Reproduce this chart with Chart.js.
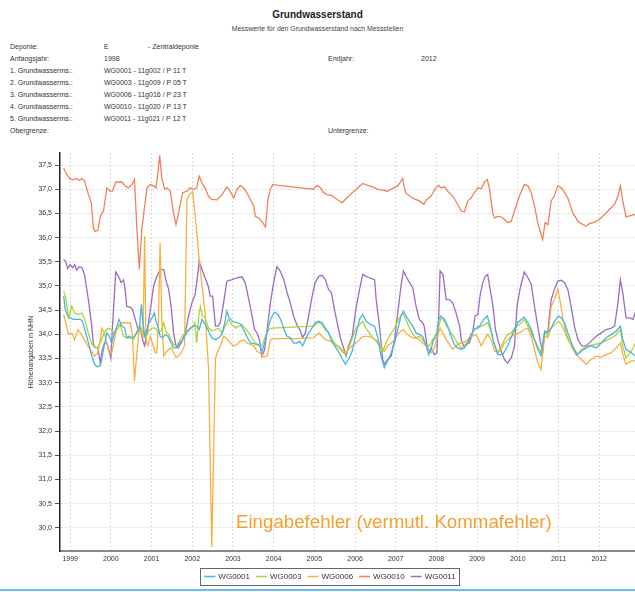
<!DOCTYPE html>
<html>
<head>
<meta charset="utf-8">
<script src="https://cdn.jsdelivr.net/npm/chart.js@4.4.0/dist/chart.umd.min.js"></script>
<style>
  body { margin: 0; background: #fff; width: 635px; height: 592px; overflow: hidden; position: relative;
         font-family: "Liberation Sans", Arial, sans-serif; color: #333; }
  #chart { position: absolute; left: 0; top: 0; }
  .t { position: absolute; font-size: 7px; line-height: 8px; white-space: nowrap; }
  .title { position: absolute; left: 0; width: 635px; text-align: center; white-space: nowrap; }
  #note { position: absolute; left: 236px; top: 511px; font-size: 18.7px; color: #f4a030; white-space: nowrap; }
  #rule { position: absolute; left: 0; top: 589px; width: 635px; height: 2px; background: #6cbde6; }
</style>
</head>
<body>
<div class="title" style="top:9px;font-size:10px;font-weight:bold;color:#222">Grundwasserstand</div>
<div class="title" style="top:25px;font-size:6.9px;color:#444">Messwerte für den Grundwasserstand nach Messstellen</div>

<div class="t" style="left:10px;top:43px">Deponie:</div>
<div class="t" style="left:104px;top:43px">E</div>
<div class="t" style="left:148px;top:43px">- Zentraldeponie</div>
<div class="t" style="left:10px;top:55px">Anfangsjahr:</div>
<div class="t" style="left:104px;top:55px">1998</div>
<div class="t" style="left:328px;top:55px">Endjahr:</div>
<div class="t" style="left:421px;top:55px">2012</div>
<div class="t" style="left:10px;top:67px">1. Grundwasserms.:</div>
<div class="t" style="left:104px;top:67px">WG0001 - 11g002 / P 11 T</div>
<div class="t" style="left:10px;top:79px">2. Grundwasserms.:</div>
<div class="t" style="left:104px;top:79px">WG0003 - 11g009 / P 05 T</div>
<div class="t" style="left:10px;top:91px">3. Grundwasserms.:</div>
<div class="t" style="left:104px;top:91px">WG0006 - 11g016 / P 23 T</div>
<div class="t" style="left:10px;top:103px">4. Grundwasserms.:</div>
<div class="t" style="left:104px;top:103px">WG0010 - 11g020 / P 13 T</div>
<div class="t" style="left:10px;top:115px">5. Grundwasserms.:</div>
<div class="t" style="left:104px;top:115px">WG0011 - 11g021 / P 12 T</div>
<div class="t" style="left:10px;top:127px">Obergrenze:</div>
<div class="t" style="left:328px;top:127px">Untergrenze:</div>

<canvas id="chart" width="635" height="592"></canvas>
<div id="note">Eingabefehler (vermutl. Kommafehler)</div>
<div id="rule"></div>

<script>
// Messstellen und Linienfarben
const wellNames = ['WG0001', 'WG0003', 'WG0006', 'WG0010', 'WG0011'];
const wellColors = ['#45b5e6', '#b2d235', '#f7b040', '#f0825a', '#9b6bc3'];

const yearTicks = [1999, 2000, 2001, 2002, 2003, 2004, 2005, 2006, 2007, 2008, 2009, 2010, 2011, 2012];
const levelTicks = [30.0, 30.5, 31.0, 31.5, 32.0, 32.5, 33.0, 33.5, 34.0, 34.5, 35.0, 35.5, 36.0, 36.5, 37.0, 37.5];

// WG0001
const wg0001Years = [1998.84,1998.88,1998.94,1999.00,1999.08,1999.16,1999.25,1999.30,1999.37,1999.45,1999.53,1999.60,1999.66,1999.71,1999.76,1999.82,1999.90,1999.96,2000.02,2000.09,2000.15,2000.20,2000.27,2000.34,2000.39,2000.45,2000.52,2000.58,2000.64,2000.70,2000.75,2000.78,2000.83,2000.89,2000.94,2001.01,2001.07,2001.11,2001.16,2001.21,2001.27,2001.34,2001.40,2001.46,2001.54,2001.62,2001.68,2001.75,2001.81,2001.87,2001.95,2002.03,2002.11,2002.17,2002.24,2002.32,2002.40,2002.48,2002.57,2002.65,2002.73,2002.80,2002.85,2002.91,2002.99,2003.10,2003.18,2003.26,2003.34,2003.43,2003.51,2003.59,2003.66,2003.71,2003.78,2003.86,2003.94,2004.02,2004.11,2004.19,2004.27,2004.33,2004.41,2004.49,2004.57,2004.64,2004.71,2004.78,2004.86,2004.94,2005.02,2005.11,2005.19,2005.27,2005.35,2005.43,2005.53,2005.61,2005.70,2005.76,2005.84,2005.93,2006.02,2006.11,2006.19,2006.27,2006.39,2006.48,2006.56,2006.64,2006.72,2006.80,2006.89,2006.97,2007.05,2007.13,2007.19,2007.25,2007.34,2007.42,2007.50,2007.58,2007.66,2007.75,2007.81,2007.87,2007.93,2007.99,2008.06,2008.11,2008.20,2008.28,2008.36,2008.44,2008.52,2008.61,2008.69,2008.77,2008.85,2008.93,2009.06,2009.16,2009.25,2009.30,2009.39,2009.51,2009.63,2009.75,2009.88,2010.00,2010.15,2010.25,2010.33,2010.41,2010.49,2010.57,2010.66,2010.72,2010.82,2010.90,2011.00,2011.07,2011.15,2011.23,2011.35,2011.46,2011.56,2011.68,2011.80,2011.93,2012.05,2012.17,2012.30,2012.42,2012.52,2012.58,2012.66,2012.79,2012.89];
const wg0001Levels = [34.79,34.51,34.38,34.34,34.31,34.31,34.31,34.27,34.07,33.82,33.55,33.38,33.33,33.34,33.41,33.69,34.03,33.96,33.82,34.03,34.17,34.31,34.17,34.13,33.93,33.96,33.93,33.96,34.03,34.13,34.62,34.31,33.96,34.10,34.24,34.34,34.44,34.27,34.17,33.96,33.93,34.00,33.96,33.86,33.72,33.72,33.82,33.86,33.96,34.03,34.13,34.17,34.17,34.10,34.31,34.20,34.07,33.93,33.89,33.93,34.00,34.24,34.48,34.34,34.27,34.24,34.22,34.10,33.96,33.82,33.81,33.79,33.76,33.65,33.82,34.13,34.34,34.46,34.41,34.27,34.07,33.96,33.93,33.82,33.82,33.86,33.76,33.89,34.03,34.13,34.24,34.27,34.24,34.13,34.03,33.86,33.72,33.62,33.48,33.38,33.48,33.65,34.00,34.31,34.41,34.27,34.20,34.17,33.93,33.55,33.31,33.45,33.62,33.82,34.10,34.38,34.48,34.38,34.27,34.17,34.03,34.00,33.96,33.76,33.58,33.69,33.89,33.93,34.31,34.38,34.31,34.17,33.96,33.79,33.72,33.69,33.72,33.82,34.00,34.10,34.17,34.31,34.38,34.24,33.89,33.58,33.58,33.76,34.03,34.24,34.36,34.24,34.10,33.89,33.69,33.56,34.07,34.03,34.13,34.27,34.38,34.34,34.24,34.03,33.76,33.58,33.65,33.72,33.76,33.72,33.82,33.93,34.00,34.07,34.17,33.89,33.69,33.62,33.55];

// WG0003
const wg0003Years = [1998.84,1998.89,1998.96,1999.04,1999.11,1999.19,1999.29,1999.35,1999.43,1999.52,1999.57,1999.66,1999.74,1999.80,1999.86,1999.94,2000.01,2000.07,2000.15,2000.23,2000.31,2000.39,2000.48,2000.56,2000.64,2000.72,2000.80,2000.86,2000.93,2001.01,2001.09,2001.17,2001.24,2001.30,2001.35,2001.42,2001.48,2001.54,2001.60,2001.66,2001.75,2001.83,2001.91,2001.99,2002.06,2002.11,2002.16,2002.20,2002.25,2002.32,2002.40,2002.48,2002.57,2002.65,2002.73,2002.81,2002.89,2002.98,2003.06,2003.14,2003.22,2003.30,2003.39,2003.47,2003.55,2003.63,2003.71,2003.80,2003.88,2003.96,2004.45,2004.98,2005.11,2005.19,2005.27,2005.35,2005.43,2005.52,2005.60,2005.68,2005.76,2005.83,2005.89,2005.96,2006.02,2006.11,2006.19,2006.27,2006.35,2006.43,2006.52,2006.60,2006.68,2006.76,2006.84,2006.93,2007.01,2007.09,2007.17,2007.25,2007.34,2007.42,2007.50,2007.58,2007.66,2007.75,2007.83,2007.91,2008.03,2008.11,2008.20,2008.28,2008.36,2008.44,2008.52,2008.61,2008.69,2008.77,2008.85,2008.93,2009.02,2009.10,2009.18,2009.26,2009.34,2009.43,2009.51,2009.59,2009.67,2009.75,2009.84,2009.92,2010.04,2010.16,2010.25,2010.33,2010.41,2010.49,2010.57,2010.66,2010.74,2010.82,2010.90,2011.00,2011.07,2011.15,2011.23,2011.35,2011.46,2011.57,2011.72,2011.89,2012.05,2012.21,2012.38,2012.52,2012.58,2012.66,2012.79,2012.89];
const wg0003Levels = [34.89,34.76,34.34,34.58,34.44,34.41,34.44,34.34,34.07,33.82,33.76,33.72,33.82,33.96,34.07,34.13,34.10,34.03,34.10,34.20,33.96,33.93,33.93,33.89,34.07,34.17,34.03,33.93,34.07,34.13,34.13,34.03,34.07,34.24,34.07,34.00,33.89,33.79,33.76,33.82,33.96,34.03,34.10,34.13,34.24,33.82,34.38,34.58,34.38,34.34,34.13,34.07,34.10,34.13,34.03,34.17,34.31,34.20,34.13,34.17,34.20,34.13,34.03,33.93,33.82,33.79,33.76,33.96,34.10,34.13,34.15,34.17,34.25,34.20,34.10,34.03,33.91,33.79,33.72,33.65,33.58,33.69,33.82,33.98,34.13,34.20,34.27,34.13,34.03,33.93,33.86,33.76,33.65,33.82,33.96,34.07,34.20,34.34,34.44,34.31,34.13,34.00,33.93,33.96,33.89,33.79,33.76,33.89,34.07,34.34,34.27,34.13,34.03,33.93,33.82,33.72,33.76,33.86,33.96,34.10,34.13,34.17,34.20,34.24,34.07,33.77,33.62,33.76,33.89,34.00,34.03,34.13,34.20,34.31,34.17,34.03,33.89,33.76,33.62,34.03,33.96,34.13,34.20,34.27,34.20,34.07,33.89,33.72,33.58,33.69,33.76,33.79,33.82,33.89,33.96,34.10,33.76,33.51,33.65,33.82];

// WG0006 (mit dem Fehlwert 2002)
const wg0006Years = [1998.84,1998.89,1998.96,1999.04,1999.11,1999.19,1999.27,1999.35,1999.43,1999.52,1999.60,1999.68,1999.74,1999.78,1999.84,1999.90,1999.96,2000.02,2000.09,2000.15,2000.20,2000.27,2000.48,2000.53,2000.58,2000.64,2000.70,2000.75,2000.79,2000.83,2000.86,2000.91,2000.97,2001.02,2001.09,2001.13,2001.17,2001.21,2001.25,2001.30,2001.35,2001.42,2001.48,2001.54,2001.60,2001.66,2001.73,2001.81,2001.87,2001.93,2002.01,2002.09,2002.17,2002.32,2002.40,2002.48,2002.57,2002.61,2002.69,2002.77,2002.85,2002.93,2003.02,2003.10,2003.18,2003.26,2003.34,2003.43,2003.51,2003.59,2003.67,2003.75,2003.84,2003.92,2004.00,2004.61,2004.98,2005.11,2005.19,2005.27,2005.39,2005.52,2005.60,2005.68,2005.76,2005.84,2005.93,2006.02,2006.11,2006.19,2006.31,2006.43,2006.56,2006.64,2006.72,2006.80,2006.89,2006.97,2007.05,2007.13,2007.19,2007.25,2007.34,2007.42,2007.50,2007.58,2007.66,2007.75,2007.81,2007.87,2007.95,2008.03,2008.09,2008.16,2008.24,2008.32,2008.40,2008.48,2008.57,2008.65,2008.73,2008.81,2008.89,2008.96,2009.02,2009.10,2009.18,2009.26,2009.34,2009.43,2009.51,2009.59,2009.67,2009.80,2009.92,2010.04,2010.16,2010.25,2010.33,2010.41,2010.49,2010.57,2010.66,2010.74,2010.82,2010.90,2010.98,2011.05,2011.11,2011.19,2011.31,2011.43,2011.56,2011.68,2011.80,2011.93,2012.05,2012.17,2012.30,2012.42,2012.52,2012.58,2012.66,2012.79,2012.89];
const wg0006Levels = [34.41,34.24,34.00,34.03,33.89,34.10,34.00,33.89,33.76,33.65,33.55,33.62,33.89,34.13,34.03,33.82,33.62,33.62,33.89,34.17,34.20,34.24,34.24,33.96,33.03,33.62,34.13,34.03,33.96,36.03,33.89,33.76,33.96,33.82,33.62,33.62,34.31,35.89,34.31,33.55,33.62,33.69,33.72,33.62,33.53,33.55,33.62,33.76,36.79,36.89,36.95,36.30,35.55,34.40,33.30,29.60,33.50,33.62,33.76,33.96,33.91,33.82,33.76,33.79,33.86,33.89,33.82,33.79,33.76,33.65,33.62,33.53,33.55,33.89,33.91,33.91,33.93,34.03,33.96,33.89,33.86,33.79,33.76,33.69,33.62,33.69,33.76,33.82,33.89,33.96,33.96,33.93,33.86,33.76,33.65,33.76,33.82,33.89,34.00,34.07,34.10,34.03,33.96,33.93,33.93,33.89,33.82,33.76,33.65,33.62,33.72,33.96,34.13,34.03,33.89,33.79,33.69,33.76,33.82,33.82,33.86,33.93,33.96,34.00,33.93,33.76,33.89,34.00,33.89,33.66,33.62,33.69,33.82,33.93,34.00,34.03,34.10,34.13,33.96,33.69,33.41,33.27,33.96,33.93,34.58,34.72,34.93,34.65,34.31,34.03,33.76,33.58,33.48,33.38,33.48,33.55,33.53,33.58,33.62,33.72,33.82,33.58,33.38,33.45,33.45];

// WG0010
const wg0010Years = [1998.84,1998.92,1999.00,1999.08,1999.16,1999.22,1999.29,1999.35,1999.45,1999.52,1999.57,1999.61,1999.68,1999.74,1999.82,1999.90,1999.98,2000.04,2000.12,2000.27,2000.35,2000.43,2000.52,2000.58,2000.64,2000.70,2000.76,2000.83,2000.89,2000.97,2001.05,2001.11,2001.16,2001.20,2001.25,2001.32,2001.38,2001.46,2001.54,2001.60,2001.66,2001.76,2001.87,2001.95,2002.03,2002.11,2002.17,2002.24,2002.32,2002.40,2002.48,2002.61,2002.73,2002.85,2002.93,2003.02,2003.10,2003.18,2003.26,2003.34,2003.43,2003.51,2003.55,2003.63,2003.73,2003.80,2003.86,2003.92,2003.98,2004.12,2004.45,2004.78,2004.98,2005.07,2005.15,2005.23,2005.31,2005.43,2005.56,2005.68,2005.80,2005.93,2006.01,2006.07,2006.19,2006.31,2006.43,2006.56,2006.68,2006.80,2006.93,2007.05,2007.17,2007.24,2007.34,2007.46,2007.58,2007.69,2007.76,2007.87,2007.98,2008.06,2008.11,2008.20,2008.28,2008.40,2008.52,2008.61,2008.69,2008.77,2008.85,2008.93,2009.02,2009.10,2009.18,2009.25,2009.30,2009.39,2009.43,2009.51,2009.59,2009.67,2009.75,2009.84,2009.92,2010.04,2010.16,2010.25,2010.33,2010.41,2010.49,2010.56,2010.61,2010.67,2010.74,2010.82,2010.90,2010.98,2011.07,2011.15,2011.23,2011.35,2011.48,2011.60,2011.68,2011.76,2011.89,2012.01,2012.13,2012.25,2012.38,2012.46,2012.52,2012.58,2012.66,2012.79,2012.89];
const wg0010Levels = [37.44,37.30,37.21,37.20,37.22,37.18,37.22,37.18,36.89,36.72,36.20,36.13,36.15,36.44,36.55,37.03,36.96,36.96,37.15,37.15,37.07,37.03,37.10,37.20,36.17,35.34,36.17,36.65,37.03,37.10,37.07,37.03,37.38,37.70,37.24,37.00,37.03,36.96,36.51,36.27,36.48,36.93,36.96,37.03,37.00,37.03,37.27,37.13,37.02,36.85,36.79,36.78,36.89,37.05,36.96,36.82,37.00,37.08,37.03,36.93,36.79,36.65,36.44,36.41,36.31,36.22,36.79,37.00,37.10,37.08,37.05,37.02,37.00,37.08,37.03,36.93,36.89,36.87,36.79,36.72,36.82,36.93,36.98,37.03,37.12,37.08,37.05,37.00,36.98,36.96,37.02,37.07,37.22,36.93,36.86,36.80,36.76,36.69,36.79,36.86,37.03,37.08,37.03,37.05,36.96,36.86,36.69,36.55,36.53,36.76,36.82,36.93,37.03,37.01,37.15,37.20,37.03,36.48,36.41,36.44,36.43,36.38,36.31,36.34,36.55,36.86,37.10,37.07,36.93,36.65,36.31,36.10,35.96,36.31,36.27,36.76,36.86,37.07,37.03,36.93,36.82,36.51,36.34,36.27,36.24,36.29,36.32,36.38,36.48,36.58,36.69,36.86,37.07,36.76,36.43,36.46,36.48];

// WG0011
const wg0011Years = [1998.84,1998.89,1998.94,1999.00,1999.06,1999.11,1999.16,1999.22,1999.29,1999.35,1999.41,1999.47,1999.53,1999.57,1999.61,1999.68,1999.74,1999.78,1999.84,1999.90,1999.96,2000.00,2000.04,2000.09,2000.12,2000.19,2000.25,2000.31,2000.35,2000.39,2000.48,2000.53,2000.60,2000.66,2000.72,2000.78,2000.83,2000.89,2000.97,2001.05,2001.13,2001.21,2001.30,2001.35,2001.42,2001.48,2001.54,2001.60,2001.65,2001.73,2001.83,2001.91,2001.99,2002.07,2002.14,2002.17,2002.24,2002.32,2002.39,2002.44,2002.50,2002.57,2002.63,2002.69,2002.77,2002.85,2002.98,2003.10,2003.22,2003.30,2003.39,2003.47,2003.53,2003.59,2003.65,2003.71,2003.78,2003.84,2003.92,2004.00,2004.08,2004.16,2004.25,2004.33,2004.41,2004.49,2004.57,2004.66,2004.71,2004.78,2004.86,2004.94,2005.02,2005.11,2005.19,2005.27,2005.35,2005.42,2005.48,2005.56,2005.64,2005.72,2005.78,2005.84,2005.93,2006.02,2006.11,2006.19,2006.27,2006.35,2006.48,2006.52,2006.60,2006.68,2006.72,2006.80,2006.89,2006.97,2007.05,2007.13,2007.19,2007.25,2007.34,2007.42,2007.50,2007.58,2007.66,2007.70,2007.76,2007.81,2007.87,2007.95,2008.01,2008.06,2008.09,2008.16,2008.24,2008.32,2008.40,2008.48,2008.57,2008.61,2008.67,2008.73,2008.81,2008.89,2008.95,2009.02,2009.07,2009.14,2009.20,2009.26,2009.32,2009.39,2009.45,2009.51,2009.59,2009.67,2009.75,2009.84,2009.92,2009.98,2010.07,2010.16,2010.25,2010.33,2010.41,2010.49,2010.56,2010.61,2010.66,2010.74,2010.82,2010.90,2010.98,2011.07,2011.15,2011.23,2011.31,2011.39,2011.48,2011.57,2011.68,2011.80,2011.93,2012.05,2012.17,2012.30,2012.38,2012.46,2012.52,2012.58,2012.66,2012.75,2012.83,2012.89];
const wg0011Levels = [35.55,35.51,35.36,35.44,35.38,35.44,35.33,35.40,35.38,35.24,34.93,34.58,34.17,33.79,33.73,33.72,33.41,33.65,33.82,33.82,33.65,33.51,34.17,34.86,35.29,35.20,35.07,35.13,34.93,34.58,34.56,34.51,34.31,34.13,34.13,33.89,33.76,34.03,34.51,35.00,35.20,35.34,35.34,35.13,34.93,34.58,34.03,33.76,33.72,33.82,34.03,34.38,34.65,34.82,35.27,35.51,35.34,35.16,35.00,34.79,34.79,34.17,34.17,34.24,34.65,35.10,35.13,35.17,35.19,35.07,34.72,34.38,34.10,34.03,33.89,33.55,33.69,34.10,34.65,35.07,35.40,35.31,35.13,34.86,34.65,34.38,34.20,34.07,33.93,34.03,34.38,34.76,35.07,35.20,35.22,35.13,34.93,34.86,34.58,34.24,33.93,33.72,33.55,33.76,33.96,34.51,34.93,35.24,35.20,35.17,35.13,34.72,34.17,33.48,33.38,33.48,33.55,33.89,34.45,35.00,35.31,35.20,35.07,34.96,34.58,34.31,34.24,34.17,33.82,33.62,33.72,33.58,33.62,34.45,35.31,35.24,34.72,34.72,34.65,34.45,34.17,33.89,33.76,33.79,33.82,34.03,34.38,34.41,34.79,35.07,35.20,35.24,34.93,34.58,34.10,33.89,33.65,33.48,33.41,33.51,33.76,34.58,35.00,35.29,35.17,35.03,34.58,34.17,33.82,33.65,34.03,34.07,34.72,34.93,35.10,35.12,35.07,34.93,34.58,34.17,33.89,33.76,33.76,33.86,33.96,34.03,34.10,34.13,34.17,34.65,35.13,34.86,34.34,34.34,34.31,34.45];

const seriesYears = [wg0001Years, wg0003Years, wg0006Years, wg0010Years, wg0011Years];
const seriesLevels = [wg0001Levels, wg0003Levels, wg0006Levels, wg0010Levels, wg0011Levels];

const axisFont = { family: 'Liberation Sans, Arial, sans-serif', size: 7 };

// Legende unter der Achse, mit Rahmen
const boxedLegend = {
  id: 'boxedLegend',
  afterDraw(chart) {
    const ctx = chart.ctx;
    ctx.save();
    ctx.font = '8px "Liberation Sans", Arial, sans-serif';
    const lineLen = 11, gap = 3, itemGap = 6;
    const items = chart.data.datasets.map(ds => ({ label: ds.label, color: ds.borderColor, w: lineLen + gap + ctx.measureText(ds.label).width }));
    const total = items.reduce((s, it) => s + it.w, 0) + itemGap * (items.length - 1);
    const cx = 330, cy = 576.5;
    const left = cx - total / 2 - 4;
    ctx.strokeStyle = '#666';
    ctx.lineWidth = 1;
    ctx.strokeRect(Math.round(left) + 0.5, 568.5, Math.round(total + 8), 17);
    let x = left + 4;
    ctx.textBaseline = 'middle';
    items.forEach(it => {
      ctx.strokeStyle = it.color;
      ctx.lineWidth = 1.5;
      ctx.beginPath();
      ctx.moveTo(x, cy);
      ctx.lineTo(x + lineLen, cy);
      ctx.stroke();
      ctx.fillStyle = '#333';
      ctx.fillText(it.label, x + lineLen + gap, cy + 0.5);
      x += it.w + itemGap;
    });
    ctx.restore();
  }
};

new Chart(document.getElementById('chart'), {
  type: 'line',
  data: {
    datasets: wellNames.map((name, i) => ({
      label: name,
      data: seriesYears[i].map((yr, k) => ({ x: yr, y: seriesLevels[i][k] })),
      borderColor: wellColors[i],
      backgroundColor: wellColors[i],
      borderWidth: 1.3,
      pointRadius: 0,
      tension: 0,
      fill: false
    }))
  },
  options: {
    responsive: false,
    animation: false,
    layout: { padding: { top: 153, right: 0, bottom: 27, left: 0 } },
    plugins: { legend: { display: false }, tooltip: { enabled: false } },
    scales: {
      x: {
        type: 'linear',
        min: 1998.75,
        max: 2012.88,
        afterBuildTicks: scale => { scale.ticks = yearTicks.map(v => ({ value: v })); },
        afterFit: scale => { scale.height = 14; },
        ticks: { font: axisFont, color: '#333', padding: 4, maxRotation: 0, autoSkip: false, callback: v => String(v) },
        grid: { color: '#dadada', lineWidth: 1, drawTicks: false },
        border: { color: '#8a8a8a', width: 2, dash: [2, 2] }
      },
      y: {
        min: 29.52,
        max: 37.75,
        afterBuildTicks: scale => { scale.ticks = levelTicks.map(v => ({ value: v })); },
        afterFit: scale => { scale.width = 60; },
        ticks: { font: axisFont, color: '#333', padding: 3, callback: v => v.toFixed(1).replace('.', ',') },
        grid: { color: '#dadada', lineWidth: 1, tickLength: 5, tickColor: '#555', tickWidth: 1 },
        border: { color: '#222', width: 1.5, dash: [2, 2] },
        title: { display: true, text: 'Höhenangaben in NHN', font: axisFont, color: '#333', padding: { top: 27, bottom: 0 } }
      }
    }
  },
  plugins: [boxedLegend]
});
</script>
</body>
</html>
